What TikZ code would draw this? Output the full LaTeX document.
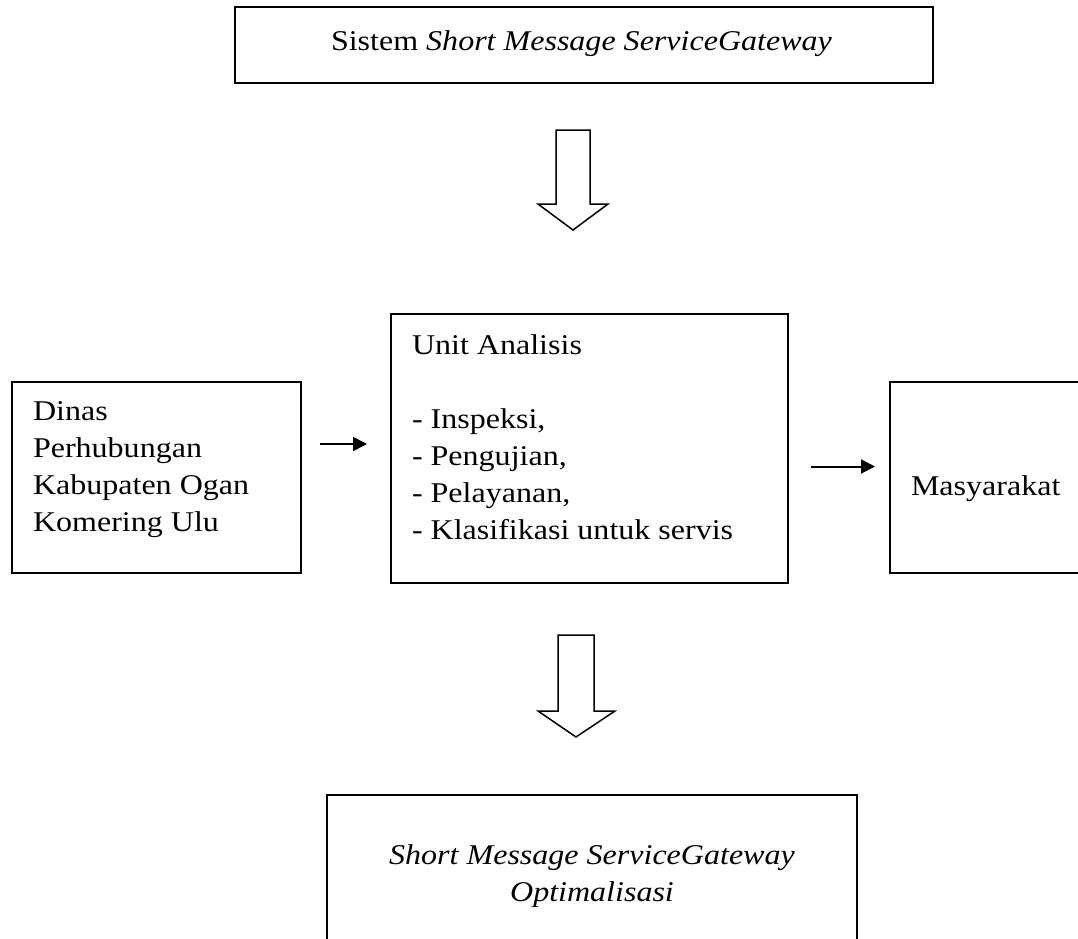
\documentclass[tikz,border=0pt]{standalone}
\usepackage{fontspec}
\setmainfont{Liberation Serif}[FakeStretch=1.12]
\usetikzlibrary{arrows.meta,fit}
\begin{document}
\begin{tikzpicture}[x=1bp,y=-1bp,
  box/.style={draw, line width=1.8bp, inner sep=0pt, outer sep=0pt},
  txt/.style={inner sep=0pt, outer sep=0pt, font=\fontsize{28.6bp}{37bp}\selectfont},
  link/.style={line width=2bp, -{Triangle[length=14bp,width=14bp]}},
  blockarrow/.style={draw, fill=white, line width=1.5bp, line join=miter}]
\clip (0,0) rectangle (1078,939);

% boxes
\node[box, fit={(235,7) (933,83)}] (sms) {};
\node[box, fit={(12,382) (301,573)}] (dinas) {};
\node[box, fit={(391,314) (788,583)}] (unit) {};
\node[box, fit={(890,382) (1100,573)}] (masy) {};
\node[box, fit={(327,795) (857,980)}] (opt) {};

% texts
\node[txt, anchor=base west] (smstext) at (331,50)
  {Sistem \textit{Short Message ServiceGateway}};
\node[txt, anchor=base west] (dinastext) at (33,420)
  {\begin{tabular}[t]{@{}l@{}}Dinas\\Perhubungan\\Kabupaten Ogan\\Komering Ulu\end{tabular}};
\node[txt, anchor=base west] (unittext) at (412,354)
  {\begin{tabular}[t]{@{}l@{}}Unit Analisis\\ \\- Inspeksi,\\- Pengujian,\\- Pelayanan,\\- Klasifikasi untuk servis\end{tabular}};
\node[txt, anchor=base west] (masytext) at (911,495) {Masyarakat};
\node[txt, anchor=base] (opttext) at (592,864)
  {\begin{tabular}[t]{@{}c@{}}\itshape Short Message ServiceGateway\\\itshape Optimalisasi\end{tabular}};

% hollow block arrows
\draw[blockarrow] (556,130) -- (590,130) -- (590,204) -- (608,204) -- (573,230)
  -- (538,204) -- (556,204) -- cycle;
\draw[blockarrow] (558,635) -- (594,635) -- (594,711) -- (615,711) -- (576,737)
  -- (538,711) -- (558,711) -- cycle;

% flow arrows
\draw[link, shorten <=19bp, shorten >=24bp] (dinas.east |- 0,444) -- (unit.west |- 0,444);
\draw[link, shorten <=23bp, shorten >=15bp] (unit.east |- 0,466.5) -- (masy.west |- 0,466.5);
\end{tikzpicture}
\end{document}
